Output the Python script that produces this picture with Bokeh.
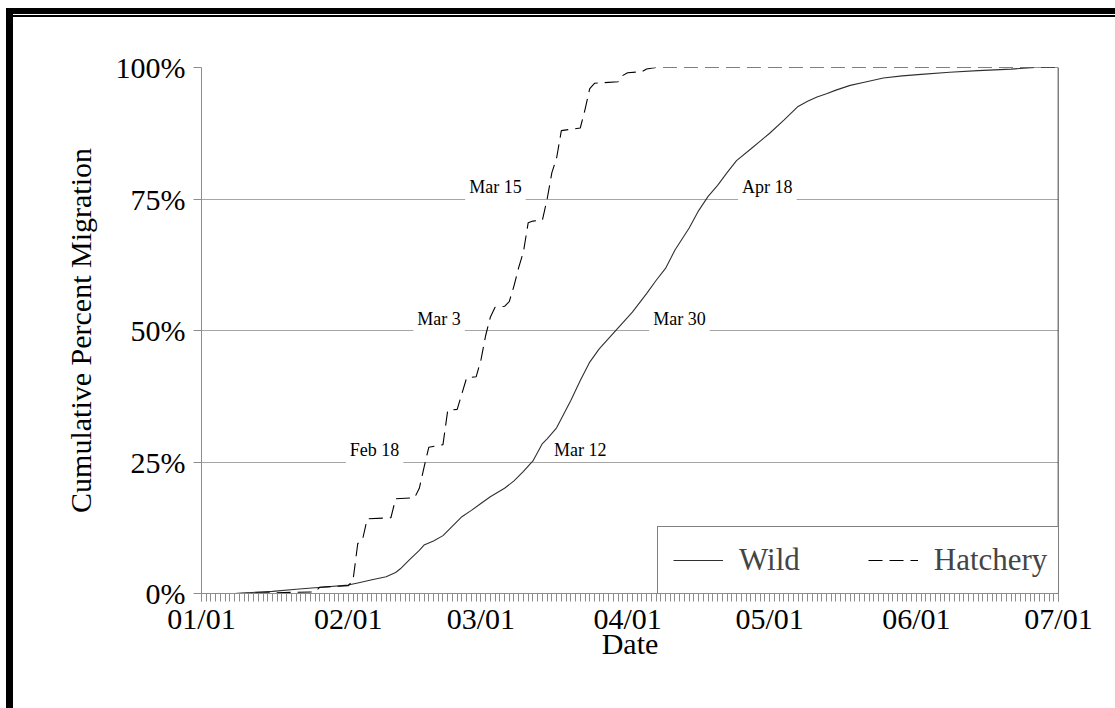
import pandas as pd
from bokeh.plotting import figure
from bokeh.models import (FixedTicker, DatetimeTickFormatter, PrintfTickFormatter,
                          Span, Label, Legend, LegendItem, Range1d)
from bokeh.embed import file_html
from bokeh.resources import INLINE

# ---------------- data ----------------
YEAR_START = "2001-01-01"

# days after Jan 1, cumulative percent
wild_days = [7, 15, 20, 26, 31, 33, 36, 39, 41, 42, 44, 46, 47, 49, 51, 53, 55, 57, 59,
             61, 64, 66, 68, 70, 72, 73, 75, 78, 80, 82, 84, 86, 88, 91, 94, 96, 98,
             100, 103, 105, 107, 109, 111, 113, 116, 118, 120, 123, 126, 128, 130, 132,
             134, 137, 140, 144, 148, 152, 158, 164, 171, 176, 181]
wild_pct = [0.0, 0.4, 0.8, 1.25, 1.6, 2.0, 2.6, 3.2, 4.0, 4.7, 6.5, 8.2, 9.2, 10.0, 11.0,
            12.8, 14.6, 15.8, 17.1, 18.4, 20.0, 21.4, 23.2, 25.2, 28.5, 29.4, 31.5, 36.7,
            40.5, 44.0, 46.5, 48.5, 50.5, 53.5, 57.0, 59.5, 61.8, 65.3, 69.5, 72.8, 75.5,
            77.6, 80.0, 82.3, 84.5, 86.0, 87.5, 90.0, 92.6, 93.6, 94.4, 95.0, 95.7, 96.6,
            97.2, 98.0, 98.4, 98.7, 99.1, 99.4, 99.7, 100.0, 100.0]

hatch_days = [7, 24, 25, 31, 32, 33, 34, 35, 40, 41, 45, 46, 47, 48, 51, 52, 54, 55, 56,
              58, 59, 60, 61, 62, 64, 65, 66, 67, 68, 69, 70, 72, 73, 74, 75, 76, 80, 81,
              82, 83, 88, 89, 90, 93, 94, 96, 181]
hatch_pct = [0.0, 0.3, 1.2, 1.5, 2.5, 9.5, 10.2, 14.2, 14.4, 18.0, 18.2, 20.0, 24.0, 27.8,
             28.3, 34.8, 35.0, 38.0, 41.0, 41.2, 44.3, 49.0, 52.5, 54.4, 54.6, 55.5, 58.5,
             62.0, 65.0, 70.5, 70.8, 71.0, 75.0, 80.0, 82.8, 88.0, 88.5, 92.0, 96.0, 97.0,
             97.3, 98.5, 99.0, 99.2, 99.7, 100.0, 100.0]

month_ticks = ["2001-01-01", "2001-02-01", "2001-03-01", "2001-04-01",
               "2001-05-01", "2001-06-01", "2001-07-01"]
y_ticks = [0, 25, 50, 75, 100]

# crossing-date annotations
cross_text = ["Feb 18", "Mar 3", "Mar 15", "Mar 12", "Mar 30", "Apr 18"]
cross_date = ["2001-02-18", "2001-03-03", "2001-03-15", "2001-03-12", "2001-03-30", "2001-04-18"]
cross_pct = [25, 50, 75, 25, 50, 75]
# styling: pixel offsets of label text from the crossing point, background on/off
cross_xoff = [-83, -77, -82, 17, 31, 30]
cross_bg = [True, True, True, False, True, True]

# ---------------- helpers ----------------
t0 = pd.Timestamp(YEAR_START)
def to_dt(days):
    return [t0 + pd.Timedelta(days=d) for d in days]

def ms(s):
    return pd.Timestamp(s).value / 1e6

# ---------------- figure ----------------
W, H = 1115, 708
p = figure(width=W, height=H, x_axis_type="datetime", output_backend="svg",
           toolbar_location=None,
           x_range=Range1d(ms(month_ticks[0]), ms(month_ticks[-1])),
           y_range=Range1d(0, 100),
           min_border_left=201, min_border_right=57, min_border_top=67, min_border_bottom=115)
p.background_fill_color = "white"
p.border_fill_color = None
p.outline_line_color = None
# page frame: thick black bars on top and left, thin rule under the top bar
p.styles = {
    "background-color": "white",
    "background-image": "linear-gradient(black, black), linear-gradient(black, black), "
                        "linear-gradient(black, black)",
    "background-size": "7px 100%, 100% 6px, 100% 2px",
    "background-position": "6px 8px, 6px 8px, 13px 15px",
    "background-repeat": "no-repeat",
}

SERIF = "Liberation Serif"
GRAY = "#8c8c8c"

# x axis
xa = p.xaxis[0]
day_ms = [ms(month_ticks[0]) + i * 86400000 for i in range(0, 182)]
xa.ticker = FixedTicker(ticks=[ms(m) for m in month_ticks], minor_ticks=day_ms)
xa.formatter = DatetimeTickFormatter(days="%m/%d", months="%m/%d", years="%m/%d",
                                     hours="%m/%d", hourmin="%m/%d")
xa.axis_label = "Date"
# y axis
ya = p.yaxis[0]
ya.ticker = FixedTicker(ticks=y_ticks)
ya.formatter = PrintfTickFormatter(format="%d%%")
ya.axis_label = "Cumulative Percent Migration"

for ax in (xa, ya):
    ax.axis_line_color = GRAY
    ax.major_tick_line_color = GRAY
    ax.minor_tick_line_color = GRAY if ax is xa else None
    ax.major_tick_in = 0
    ax.major_tick_out = 8
    ax.minor_tick_in = 0
    ax.minor_tick_out = 8
    ax.major_label_text_font = SERIF
    ax.major_label_text_font_size = "30px"
    ax.major_label_text_color = "black"
    ax.axis_label_text_font = SERIF
    ax.axis_label_text_font_size = "30px"
    ax.axis_label_text_font_style = "normal"
    ax.axis_label_text_color = "black"
xa.major_label_standoff = 0
xa.axis_label_standoff = -11
ya.major_label_standoff = 8
ya.axis_label_standoff = 16

p.xgrid.grid_line_color = None
p.ygrid.ticker = FixedTicker(ticks=[25, 50, 75, 100])
p.ygrid.grid_line_color = "#a6a6a6"
p.ygrid.grid_line_width = 1

# right edge of frame
p.add_layout(Span(location=ms(month_ticks[-1]), dimension="height",
                  line_color="black", line_width=1.5))

# curves
r_wild = p.line(to_dt(wild_days), wild_pct, line_color="#303030", line_width=1.1)
r_hatch = p.line(to_dt(hatch_days), hatch_pct, line_color="black", line_width=1.1,
                 line_dash="14 7")

# crossing labels
for txt, d, pc, xo, bg in zip(cross_text, cross_date, cross_pct, cross_xoff, cross_bg):
    lab = Label(x=ms(d), y=pc, text=txt, x_offset=xo, y_offset=12,
                text_font=SERIF, text_font_size="18px", text_color="black",
                text_align="left", text_baseline="alphabetic",
                background_fill_color="white" if bg else None,
                background_fill_alpha=1.0, padding=4)
    p.add_layout(lab)

legend = Legend(items=[LegendItem(label="Wild", renderers=[r_wild]),
                       LegendItem(label="Hatchery", renderers=[r_hatch])],
                location=(456, -1), orientation="horizontal",
                label_text_font=SERIF, label_text_font_size="31px",
                glyph_width=50, glyph_height=30, label_standoff=16, spacing=68,
                padding=15, margin=0, border_line_color="black", border_line_width=1,
                background_fill_color="white", background_fill_alpha=1.0)
p.add_layout(legend)

open("out.html", "w").write(file_html(p, INLINE))
